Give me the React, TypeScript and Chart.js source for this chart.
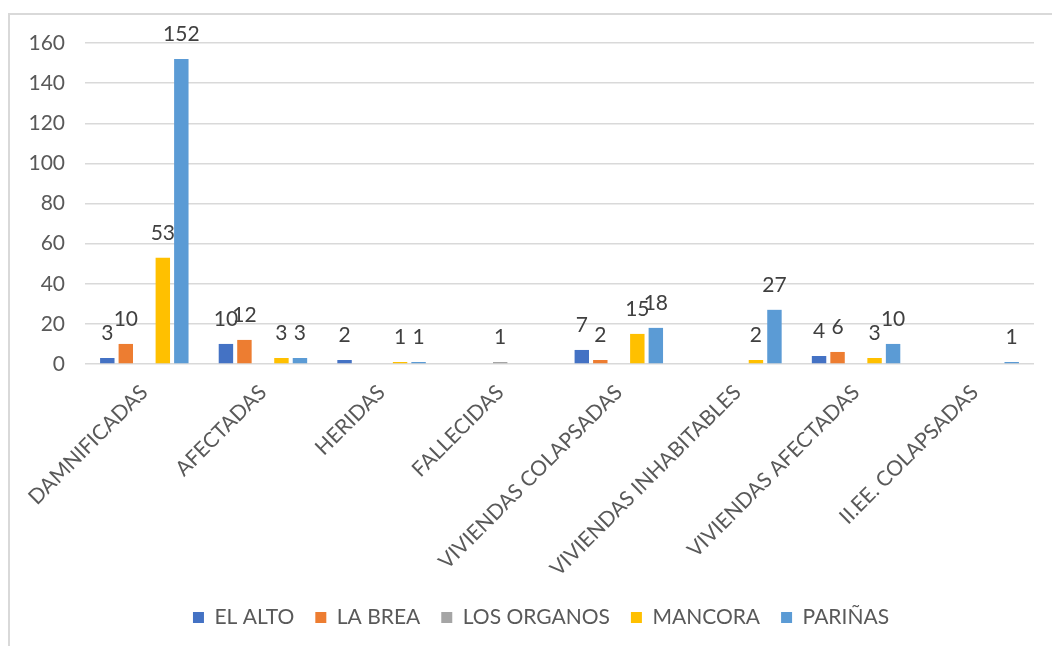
import React, { useEffect, useRef } from "react";
import { Chart, registerables } from "chart.js";

Chart.register(...registerables);

const categories = [
  "DAMNIFICADAS",
  "AFECTADAS",
  "HERIDAS",
  "FALLECIDAS",
  "VIVIENDAS COLAPSADAS",
  "VIVIENDAS INHABITABLES",
  "VIVIENDAS AFECTADAS",
  "II.EE. COLAPSADAS",
];
const elAlto = [3, 10, 2, 0, 7, 0, 4, 0];
const laBrea = [10, 12, 0, 0, 2, 0, 6, 0];
const losOrganos = [0, 0, 0, 1, 0, 0, 0, 0];
const mancora = [53, 3, 1, 0, 15, 2, 3, 0];
const parinas = [152, 3, 1, 0, 18, 27, 10, 1];
const seriesNames = ["EL ALTO", "LA BREA", "LOS ORGANOS", "MANCORA", "PARIÑAS"];
const seriesColors = ["#4472C4", "#ED7D31", "#A5A5A5", "#FFC000", "#5B9BD5"];
const yTicks = [0, 20, 40, 60, 80, 100, 120, 140, 160];

const FONT = "Lato, 'Open Sans', sans-serif";

const labelPlugin = {
  id: "barLabels",
  afterDatasetsDraw(chart: any) {
    const ctx = chart.ctx;
    ctx.save();
    ctx.font = `21px ${FONT}`;
    ctx.fillStyle = "#404040";
    ctx.textAlign = "center";
    ctx.textBaseline = "bottom";
    chart.data.datasets.forEach((ds: any, di: number) => {
      const meta = chart.getDatasetMeta(di);
      meta.data.forEach((el: any, i: number) => {
        const v = ds.data[i];
        if (v > 0) ctx.fillText(String(v), el.x, el.y - 14);
      });
    });
    ctx.restore();
  },
};

const shiftLegend = {
  id: "shiftLegend",
  afterLayout(chart: any) {
    const l = chart.legend;
    if (l) {
      l.left += 24;
      l.right += 24;
    }
  },
};

export default function App() {
  const ref = useRef<HTMLCanvasElement>(null);
  useEffect(() => {
    const all = [elAlto, laBrea, losOrganos, mancora, parinas];
    const chart = new Chart(ref.current!, {
      type: "bar",
      data: {
        labels: categories,
        datasets: all.map((d, i) => ({
          label: seriesNames[i],
          data: d,
          backgroundColor: seriesColors[i],
          categoryPercentage: 0.78,
          barPercentage: 0.78,
        })),
      },
      options: {
        responsive: false,
        animation: false,
        layout: { padding: { left: 0, top: 43, right: 18, bottom: 8 } },
        plugins: {
          tooltip: { enabled: false },
          legend: {
            position: "bottom",
            labels: {
              boxWidth: 11,
              boxHeight: 11,
              padding: 21,
              color: "#595959",
              font: { family: FONT, size: 21 },
            },
          },
        },
        scales: {
          x: {
            grid: { display: false },
            border: { display: false },
            ticks: {
              minRotation: 45,
              maxRotation: 45,
              color: "#595959",
              font: { family: FONT, size: 21 },
              padding: 8,
            },
            afterFit: (s: any) => {
              s.height = s.chart.height - 364 - s.chart.legend.height - 8;
            },
          },
          y: {
            min: 0,
            max: 160,
            afterBuildTicks: (s: any) => {
              s.ticks = yTicks.map((v) => ({ value: v }));
            },
            grid: { color: "#D9D9D9", lineWidth: 1.5, drawTicks: false },
            border: { display: false },
            ticks: {
              color: "#595959",
              font: { family: FONT, size: 21 },
              padding: 20,
            },
            afterFit: (s: any) => {
              s.width = 85;
            },
          },
        },
      },
      plugins: [labelPlugin, shiftLegend],
    });
    return () => chart.destroy();
  }, []);
  return (
    <div style={{ position: "absolute", left: 0, top: 0, width: 1052, height: 646, overflow: "hidden", background: "#fff" }}>
      <div
        style={{
          position: "absolute",
          left: 8,
          top: 13,
          right: -10,
          bottom: -10,
          borderTop: "2px solid #D9D9D9",
          borderLeft: "2px solid #D9D9D9",
        }}
      />
      <canvas ref={ref} width={1052} height={646} style={{ position: "absolute", left: 0, top: 0 }} />
    </div>
  );
}
